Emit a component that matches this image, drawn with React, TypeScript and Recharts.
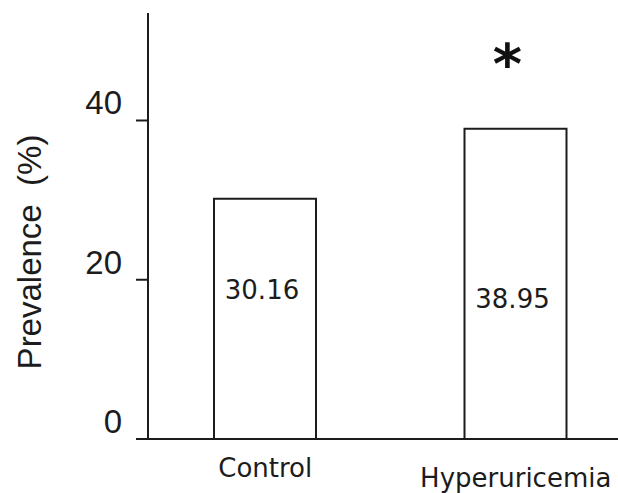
import React from 'react';
import { BarChart, Bar, XAxis, YAxis, LabelList, Label } from 'recharts';

const groups = ['Control', 'Hyperuricemia'];
const prevalence = [30.16, 38.95];
const significance = ['', '*'];
const yTicks = [0, 20, 40];

const data = groups.map((group, i) => ({
    group,
    prevalence: prevalence[i],
    sig: significance[i],
}));

const INK = '#1c1c1c';
const SANS = '"Liberation Sans", Arial, sans-serif';
const LABEL_FONT = '"DejaVu Sans", Verdana, sans-serif';

// where the value text sits inside each bar (fraction of bar height from top)
const valuePos = [0.38, 0.55];
// the second category name sits a little lower in the original
const catDrop = [0, 10];

const YTick = (props: any) => {
    const { x, y, payload } = props;
    return (
        <text x={x} y={y} dy={-6} textAnchor="end" fill={INK} fontSize={33} fontFamily={SANS}>
            {payload.value}
        </text>
    );
};

const XTick = (props: any) => {
    const { x, y, payload, index } = props;
    return (
        <text
            x={x}
            y={y}
            dy={30 + (catDrop[index] || 0)}
            textAnchor="middle"
            fill={INK}
            fontSize={26}
            fontFamily={LABEL_FONT}
        >
            {payload.value}
        </text>
    );
};

const ValueLabel = (props: any) => {
    const { x, y, width, height, value, index } = props;
    return (
        <text
            x={x + width / 2 - 3}
            y={y + height * valuePos[index]}
            dominantBaseline="central"
            textAnchor="middle"
            fill={INK}
            fontSize={26}
            fontFamily={LABEL_FONT}
        >
            {Number(value).toFixed(2)}
        </text>
    );
};

const SigLabel = (props: any) => {
    const { x, y, width, value } = props;
    if (!value) return null;
    return (
        <text
            x={x + width / 2 - 8}
            y={y - 80}
            dy={34}
            textAnchor="middle"
            fill="#111"
            fontSize={56}
            fontWeight="bold"
            fontFamily={LABEL_FONT}
        >
            {value}
        </text>
    );
};

const YLabel = (props: any) => {
    const { viewBox } = props;
    const cx = viewBox.x + 41;
    const cy = viewBox.y + viewBox.height / 2 + 26;
    return (
        <text
            x={cx}
            y={cy}
            transform={`rotate(-90, ${cx}, ${cy})`}
            textAnchor="middle"
            fill={INK}
            fontSize={33}
            fontFamily={SANS}
            xmlSpace="preserve"
        >
            {'Prevalence  (%)'}
        </text>
    );
};

export default function App() {
    return (
        <div style={{ width: 618, height: 493, overflow: 'hidden', background: '#fff' }}>
            <style>{'body{margin:0}'}</style>
            <BarChart
                width={618}
                height={493}
                data={data}
                margin={{ top: 13, right: 0, left: 0, bottom: 0 }}
            >
                <XAxis
                    dataKey="group"
                    height={54}
                    padding={{ left: -8, right: -23 }}
                    axisLine={{ stroke: INK, strokeWidth: 2 }}
                    tickLine={false}
                    tick={<XTick />}
                    interval={0}
                />
                <YAxis
                    width={148}
                    domain={[0, 53.5]}
                    ticks={yTicks}
                    axisLine={{ stroke: INK, strokeWidth: 2 }}
                    tickLine={{ stroke: INK, strokeWidth: 2 }}
                    tickSize={12}
                    tickMargin={14}
                    tick={<YTick />}
                >
                    <Label content={<YLabel />} />
                </YAxis>
                <Bar
                    dataKey="prevalence"
                    fill="#fff"
                    stroke={INK}
                    strokeWidth={2}
                    barSize={102}
                    isAnimationActive={false}
                >
                    <LabelList dataKey="prevalence" content={<ValueLabel />} />
                    <LabelList dataKey="sig" content={<SigLabel />} />
                </Bar>
            </BarChart>
        </div>
    );
}
